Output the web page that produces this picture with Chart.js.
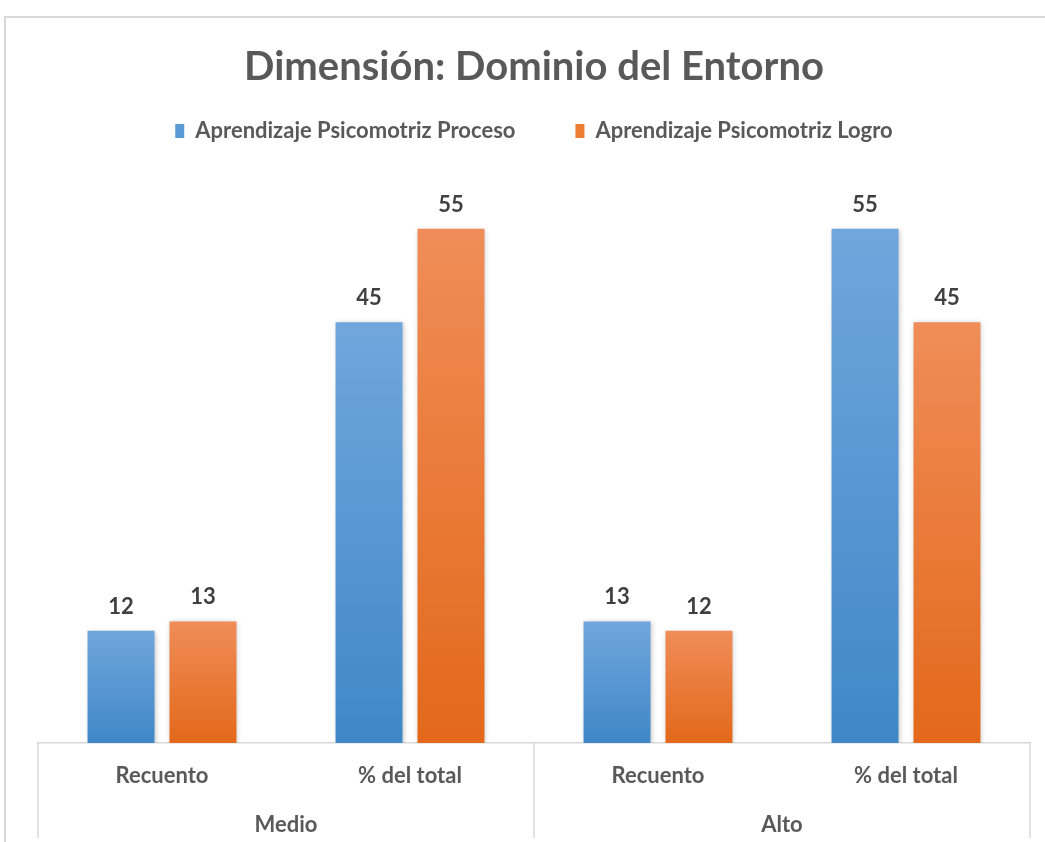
<!DOCTYPE html>
<html>
<head>
<meta charset="utf-8">
<script src="https://cdn.jsdelivr.net/npm/chart.js@4/dist/chart.umd.min.js"></script>
<style>
  html, body { margin: 0; padding: 0; background: #fff; overflow: hidden; }
  #frame { position: absolute; left: 4px; top: 16px; width: 1100px; height: 900px;
           border-left: 2px solid #d9d9d9; border-top: 2px solid #d9d9d9; }
  #wrap { position: absolute; left: 0; top: 0; width: 1045px; height: 842px; }
</style>
</head>
<body>
<div id="frame"></div>
<div id="wrap"><canvas id="chart" width="1045" height="842"></canvas></div>
<script>
// values
const categories = ['Recuento', '% del total', 'Recuento', '% del total'];
const groups = ['Medio', 'Alto'];
const proceso = [12, 45, 13, 55];
const logro = [13, 55, 12, 45];

const FONT = 'Lato, "Open Sans", sans-serif';
const TEXT = '#595959';
const LINE = '#d9d9d9';

// vertical gradient from the bar top down to the baseline, like the Excel fill
const barFill = (top, bottom) => (context) => {
  const chart = context.chart;
  if (!chart.chartArea) return bottom;
  const y = chart.scales.y;
  const g = chart.ctx.createLinearGradient(0, y.getPixelForValue(context.raw), 0, y.getPixelForValue(0));
  g.addColorStop(0, top);
  g.addColorStop(1, bottom);
  return g;
};

// numbers above each bar
const valueLabels = {
  id: 'valueLabels',
  afterDatasetsDraw(chart) {
    const ctx = chart.ctx;
    ctx.save();
    ctx.font = 'bold 22px ' + FONT;
    ctx.fillStyle = '#404040';
    ctx.textAlign = 'center';
    ctx.textBaseline = 'alphabetic';
    chart.data.datasets.forEach((ds, i) => {
      chart.getDatasetMeta(i).data.forEach((bar, j) => {
        ctx.fillText(ds.data[j], bar.x, bar.y - 17);
      });
    });
    ctx.restore();
  }
};

// soft shadow behind the bars
const barShadow = {
  id: 'barShadow',
  beforeDatasetsDraw(chart) {
    const ctx = chart.ctx;
    ctx.save();
    ctx.shadowColor = 'rgba(0,0,0,0.25)';
    ctx.shadowBlur = 5;
    ctx.shadowOffsetX = 1;
    ctx.shadowOffsetY = 1;
  },
  afterDatasetsDraw(chart) {
    chart.ctx.restore();
  }
};

// table-style separators under the axis: outer edges and between Medio / Alto
const groupLines = {
  id: 'groupLines',
  afterDraw(chart) {
    const x = chart.scales.x;
    const ctx = chart.ctx;
    const mid = (x.getPixelForValue(1) + x.getPixelForValue(2)) / 2;
    ctx.save();
    ctx.strokeStyle = LINE;
    ctx.lineWidth = 1.5;
    [x.left, mid, x.right].forEach((px) => {
      ctx.beginPath();
      ctx.moveTo(px, x.top);
      ctx.lineTo(px, 838);
      ctx.stroke();
    });
    ctx.restore();
  }
};

new Chart(document.getElementById('chart'), {
  type: 'bar',
  data: {
    labels: categories,
    datasets: [
      {
        label: 'Aprendizaje Psicomotriz Proceso',
        data: proceso,
        backgroundColor: barFill('#70a6dc', '#4087c8')
      },
      {
        label: 'Aprendizaje Psicomotriz Logro',
        data: logro,
        backgroundColor: barFill('#f08d58', '#e3681a')
      }
    ]
  },
  options: {
    responsive: false,
    animation: false,
    categoryPercentage: 0.661,
    barPercentage: 0.817,
    layout: { padding: { left: 38, right: 15, top: 0, bottom: 3 } },
    plugins: {
      title: {
        display: true,
        text: 'Dimensión: Dominio del Entorno',
        color: TEXT,
        font: { family: FONT, size: 40, weight: 'bold', lineHeight: 1 },
        padding: { top: 47, bottom: -27 }
      },
      legend: {
        labels: {
          color: TEXT,
          font: { family: FONT, size: 22, weight: 'bold' },
          boxWidth: 9,
          boxHeight: 14,
          padding: 60,
          generateLabels(chart) {
            const fills = ['#5b9bd5', '#ed7d31'];
            return chart.data.datasets.map((ds, i) => ({
              text: ds.label, fillStyle: fills[i], strokeStyle: fills[i],
              lineWidth: 0, datasetIndex: i, fontColor: TEXT
            }));
          }
        }
      },
      tooltip: { enabled: false }
    },
    scales: {
      y: { display: false, min: 0, max: 63.2 },
      x: {
        weight: 0,
        offset: true,
        grid: { display: false, drawTicks: false },
        border: { display: true, color: LINE, width: 1.5 },
        ticks: {
          color: TEXT,
          font: { family: FONT, size: 22, weight: 'bold' },
          padding: 20,
          maxRotation: 0
        },
        afterFit: (scale) => { scale.height = 46; }
      },
      x2: {
        type: 'category',
        position: 'bottom',
        weight: 1,
        labels: groups,
        offset: true,
        grid: { display: false, drawTicks: false },
        border: { display: false },
        ticks: {
          color: TEXT,
          font: { family: FONT, size: 22, weight: 'bold' },
          padding: 23
        },
        afterFit: (scale) => { scale.height = 50; }
      }
    }
  },
  plugins: [barShadow, valueLabels, groupLines]
});
</script>
</body>
</html>
